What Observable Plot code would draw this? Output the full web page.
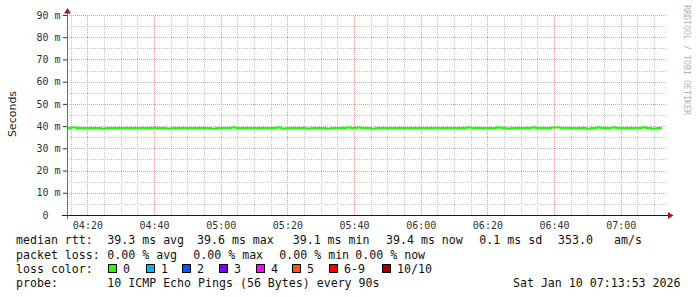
<!DOCTYPE html>
<html><head><meta charset="utf-8">
<script src="https://cdn.jsdelivr.net/npm/d3@7"></script>
<script src="https://cdn.jsdelivr.net/npm/@observablehq/plot@0.6"></script>
<style>
html,body{margin:0;padding:0;background:#fff;}
#wrap{position:relative;width:697px;height:297px;overflow:hidden;background:#fff;}
#chart{position:absolute;left:0;top:0;}
#overlay{position:absolute;left:0;top:0;pointer-events:none;}
</style></head>
<body><div id="wrap"><div id="chart"></div><svg id="overlay" width="697" height="297"></svg></div>
<script>
// ---- data ----
const startTime = "2026-01-10T04:13:53Z";
const endTime = "2026-01-10T07:13:53Z";
const firstStep = "2026-01-10T04:13:30Z";
const stepSeconds = 90;
const rttMedian = [
  39.3,39.6,39.3,39.3,39.3,39.3,39.3,39.1,39.3,39.3,
  39.3,39.3,39.3,39.3,39.3,39.3,39.3,39.3,39.3,39.3,
  39.1,39.3,39.3,39.3,39.3,39.3,39.3,39.3,39.3,39.1,
  39.3,39.3,39.3,39.6,39.3,39.3,39.3,39.3,39.3,39.3,
  39.3,39.3,39.6,39.1,39.3,39.3,39.3,39.3,39.1,39.3,
  39.3,39.3,39.1,39.3,39.3,39.3,39.6,39.3,39.6,39.3,
  39.3,39.1,39.3,39.3,39.3,39.3,39.3,39.3,39.3,39.3,
  39.3,39.3,39.3,39.3,39.3,39.3,39.3,39.3,39.3,39.3,
  39.6,39.3,39.3,39.3,39.3,39.3,39.6,39.3,39.1,39.3,
  39.3,39.3,39.3,39.6,39.3,39.3,39.3,39.6,39.6,39.3,
  39.3,39.3,39.3,39.3,39.1,39.3,39.6,39.3,39.3,39.6,
  39.3,39.3,39.3,39.3,39.3,39.6,39.3,39.1,39.3
];
const smokeSteps = [31, 41, 67, 95, 116];
const smokeHigh = [39.8, 39.8, 39.8, 39.8, 39.8];
const dayStr = "2026-01-10";
const xTickLabels = ["04:20","04:40","05:00","05:20","05:40","06:00","06:20","06:40","07:00"];
const yTickValues = [0,10,20,30,40,50,60,70,80,90];
const yUnit = "m";
const yTitle = "Seconds";
const watermark = "RRDTOOL / TOBI OETIKER";
const rttLabels = ["median rtt:","39.3 ms avg","39.6 ms max","39.1 ms min","39.4 ms now","0.1 ms sd","353.0","am/s"];
const lossLabels = ["packet loss:","0.00 % avg","0.00 % max","0.00 % min","0.00 % now"];
const lossColorTitle = "loss color:";
const lossColorNames = ["0","1","2","3","4","5","6-9","10/10"];
const lossColors = ["#26ff00","#00b8ff","#0059ff","#7e00ff","#ff00ff","#ff5500","#ff0000","#a10000"];
const probeLabels = ["probe:","10 ICMP Echo Pings (56 Bytes) every 90s"];
const stamp = "Sat Jan 10 07:13:53 2026";

// ---- layout (positions only) ----
const W = 697, H = 232, mL = 67, mR = 30, mT = 15, mB = 17;
const rttX = [16,107.3,197,292.7,386,479.3,558,614];
const lossX = [16,107.3,193.3,279.3,355.3];
const boxX = [108.3,145.7,182.3,219,255.7,292.3,329,381.7];
const rowBase = [244,258.5,272.5,287];
const monoFont = "'DejaVu Sans Mono', monospace";

// ---- build ----
const t0 = new Date(startTime), t1 = new Date(endTime), s0 = new Date(firstStep);
const stepMs = stepSeconds * 1000;
const series = rttMedian.map((v,i)=>({t:new Date(+s0 + i*stepMs), v}));
series.push({t:new Date(+s0 + rttMedian.length*stepMs), v:rttMedian[rttMedian.length-1]});
const smoke = smokeSteps.map((k,j)=>({a:new Date(+s0+k*stepMs), b:new Date(+s0+(k+1)*stepMs), lo:rttMedian[k], hi:smokeHigh[j]}));
const xTicks = xTickLabels.map(l => new Date(`${dayStr}T${l}:00Z`));
const minorX = d3.utcMinute.every(5).range(t0, t1).filter(d => d.getUTCMinutes() % 20 !== 0);
const majorY = yTickValues.filter(v => v > 0);
const minorY = yTickValues.slice(0,-1).map(v => v + 5);

// snap grid positions to whole pixels, as in the raster original
const sx = Plot.scale({x:{type:"utc", domain:[t0,t1], range:[mL, W-mR]}});
const sy = Plot.scale({y:{type:"linear", domain:[0,90], range:[H-mB, mT]}});
const snapX = d => sx.invert(Math.round(sx.apply(d)));
const snapY = v => sy.invert(Math.round(sy.apply(v)));

const gridMinor = {stroke:"#c4c4c4", strokeDasharray:"1,1"};
const gridMajor = {stroke:"#eb9a9a", strokeDasharray:"1,1"};

const chart = Plot.plot({
  width: W, height: H,
  marginLeft: mL, marginRight: mR, marginTop: mT, marginBottom: mB,
  x: {type:"utc", domain:[t0,t1], ticks:xTicks, tickFormat:d3.utcFormat("%H:%M"), tickSize:0, tickPadding:6, label:null},
  y: {domain:[0,90], ticks:yTickValues, tickFormat:d => d===0 ? "0\u00a0\u00a0" : `${d} ${yUnit}`, tickSize:4, tickPadding:3, label:null},
  style: {fontFamily: monoFont, fontSize:"10px", color:"#333", background:"transparent"},
  marks: [
    Plot.ruleX(minorX.map(snapX), {y1:0, y2:90, ...gridMinor}),
    Plot.ruleY(minorY.map(snapY), {x1:t0, x2:t1, ...gridMinor}),
    Plot.ruleX(xTicks.map(snapX), {y1:0, y2:90, ...gridMajor}),
    Plot.ruleY(majorY.map(snapY), {x1:t0, x2:t1, ...gridMajor}),
    Plot.rect(smoke, {x1:"a", x2:"b", y1:"lo", y2:"hi", fill:"#c8c8c8", clip:true}),
    Plot.line(series, {x:"t", y:"v", curve:"step-after", stroke:"#1cff00", strokeWidth:2.2, clip:true})
  ]
});
document.getElementById("chart").appendChild(chart);

const xs = chart.scale("x"), ys = chart.scale("y");
const X0 = xs.apply(t0), X1 = xs.apply(t1), Y0 = ys.apply(0), Y90 = ys.apply(90);
const ov = d3.select("#overlay");
const ax = Math.round(X0) + 0.5, ay = Math.round(Y0) + 0.5;
// axes
ov.append("line").attr("x1",ax).attr("x2",ax).attr("y1",Y90-3).attr("y2",Y0+4).attr("stroke","#6e6e6e");
ov.append("line").attr("x1",X0-5).attr("x2",X1+1).attr("y1",ay).attr("y2",ay).attr("stroke","#1a1a1a");
ov.append("polygon").attr("points",`${ax-3.5},${Y90-1.5} ${ax+3.5},${Y90-1.5} ${ax},${Y90-7}`).attr("fill","#9b1c1c");
ov.append("polygon").attr("points",`${X1+1},${ay-3.5} ${X1+1},${ay+3.5} ${X1+6.5},${ay}`).attr("fill","#9b1c1c");

// y title & watermark
ov.append("text").attr("transform",`translate(15.5,${(Y0+Y90)/2 - 1}) rotate(-90)`).attr("text-anchor","middle")
  .attr("font-family","'DejaVu Sans', sans-serif").attr("font-size",11).attr("fill","#222").text(yTitle);
ov.append("text").attr("transform",`translate(683.5,5) rotate(90)`).attr("text-anchor","start")
  .attr("font-family",monoFont).attr("font-size",8.3).attr("fill","#b4b4b4").text(watermark);

// legend text
const txt = (x,y,s,anchor="start") => ov.append("text").attr("x",x).attr("y",y).attr("text-anchor",anchor)
  .attr("font-family",monoFont).attr("font-size",11.6).attr("fill","#111").style("white-space","pre").text(s);
rttLabels.forEach((s,i)=>txt(rttX[i], rowBase[0], s));
lossLabels.forEach((s,i)=>txt(lossX[i], rowBase[1], s));
txt(16, rowBase[2], lossColorTitle);
lossColorNames.forEach((s,i)=>{
  ov.append("rect").attr("x",Math.round(boxX[i])+0.5).attr("y",rowBase[2]-8).attr("width",8).attr("height",8)
    .attr("fill",lossColors[i]).attr("stroke","#000");
  txt(Math.round(boxX[i])+15, rowBase[2], s);
});
txt(16, rowBase[3], probeLabels[0]);
txt(107.3, rowBase[3], probeLabels[1]);
txt(680.5, rowBase[3], stamp, "end");
</script></body></html>
